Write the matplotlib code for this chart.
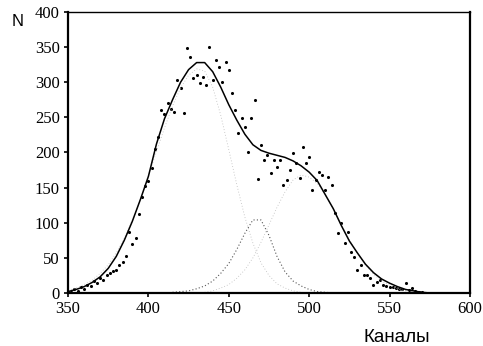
import matplotlib

matplotlib.use("Agg")
import matplotlib.pyplot as plt  # noqa: E402

# fitted total curve, read every 5 channels
fit_x = [350, 355, 360, 365, 370, 375, 380, 385, 390, 395, 400, 405, 410, 415, 420,
         425, 430, 435, 440, 445, 450, 455, 460, 465, 470, 475, 480, 485, 490, 495,
         500, 505, 510, 515, 520, 525, 530, 535, 540, 545, 550, 555, 560, 565, 570,
         575, 580, 590, 600]
fit_y = [2, 5, 9, 15, 23, 35, 52, 75, 102, 133, 166, 212, 248, 275, 300,
         318, 328, 328, 315, 293, 268, 246, 226, 211, 203, 199, 196, 193, 188, 181,
         172, 160, 140, 120, 96, 74, 57, 41, 29, 20, 14, 9, 5, 3, 1,
         0, 0, 0, 0]

# component peaks (dotted)
c1_x = [350, 355, 360, 365, 370, 375, 380, 385, 390, 395, 400, 405, 410, 415, 420,
        425, 430, 435, 440, 445, 450, 455, 460, 465, 470, 475, 480, 485, 490, 495, 500]
c1_y = [4, 7, 12, 18, 28, 40, 57, 78, 104, 134, 167, 201, 235, 266, 292,
        310, 319, 316, 293, 253, 204, 154, 108, 71, 43, 25, 13, 7, 3, 1, 0]

c2_x = [415, 420, 425, 430, 435, 440, 445, 450, 455, 460, 465, 470, 475, 480, 485,
        490, 495, 500, 505, 510, 515]
c2_y = [1, 2, 3, 6, 10, 17, 28, 42, 62, 85, 104, 104, 82, 52, 30,
        17, 10, 5, 2, 1, 0]

c3_x = [435, 440, 445, 450, 455, 460, 465, 470, 475, 480, 485, 490, 495, 500, 505,
        510, 515, 520, 525, 530, 535, 540, 545, 550, 555, 560, 565, 570, 575]
c3_y = [1, 3, 7, 12, 21, 33, 50, 72, 97, 122, 144, 161, 168, 165, 156,
        140, 119, 97, 76, 56, 40, 27, 17, 11, 6, 3, 2, 1, 0]

# measured counts
data_x = list(range(352, 572, 2))
data_y = [2, 6, 3, 8, 6, 12, 10, 17, 14, 22, 19, 26, 28, 31, 33, 40, 44, 52, 87, 70,
          78, 112, 136, 152, 160, 178, 205, 222, 260, 255, 270, 262, 258, 303, 292, 256,
          349, 336, 306, 310, 299, 307, 296, 350, 303, 332, 322, 300, 329, 317, 285, 260,
          228, 249, 237, 201, 249, 275, 162, 211, 189, 196, 171, 189, 179, 190, 154, 161,
          175, 199, 185, 164, 208, 185, 194, 147, 161, 172, 168, 147, 165, 154, 114, 85,
          100, 71, 87, 58, 51, 33, 40, 26, 26, 22, 11, 16, 18, 12, 10, 9, 8, 7,
          5, 6, 14, 4, 7, 3, 2, 1]

x_ticks = [350, 400, 450, 500, 550, 600]
y_ticks = [0, 50, 100, 150, 200, 250, 300, 350, 400]

fig = plt.figure(figsize=(4.83, 3.46), dpi=100)
ax = fig.add_axes([0.1408, 0.1532, 0.8322, 0.8121])

# broad components sit under the data and are barely visible in the scan
ax.plot(c1_x, c1_y, color="#bbbbbb", linestyle=(0, (1, 2.5)), linewidth=0.6)
ax.plot(c3_x, c3_y, color="#bbbbbb", linestyle=(0, (1, 2.5)), linewidth=0.6)
ax.plot(c2_x, c2_y, color="#555555", linestyle=(0, (1, 2)), linewidth=0.8)
ax.plot(fit_x, fit_y, color="black", linewidth=1.1)
ax.scatter(data_x, data_y, s=5, color="black", linewidths=0)

ax.set_xlim(350, 600)
ax.set_ylim(0, 400)
ax.set_xticks(x_ticks)
ax.set_yticks(y_ticks)
ax.set_xticklabels([str(v) for v in x_ticks], family="Liberation Serif", fontsize=12)
ax.set_yticklabels([str(v) for v in y_ticks], family="Liberation Serif", fontsize=12)
ax.tick_params(direction="out", length=3, width=1.2, pad=3)
for name, side in ax.spines.items():
    side.set_linewidth(1.0 if name == "top" else 1.6)

fig.text(18 / 483, 1 - 21 / 346, "N", family="Liberation Sans", fontsize=12,
         ha="center", va="center")
fig.text(397 / 483, 1 - 337 / 346, "Каналы", family="Liberation Sans", fontsize=13.5,
         ha="center", va="center")

fig.savefig("out.png", dpi=100)
